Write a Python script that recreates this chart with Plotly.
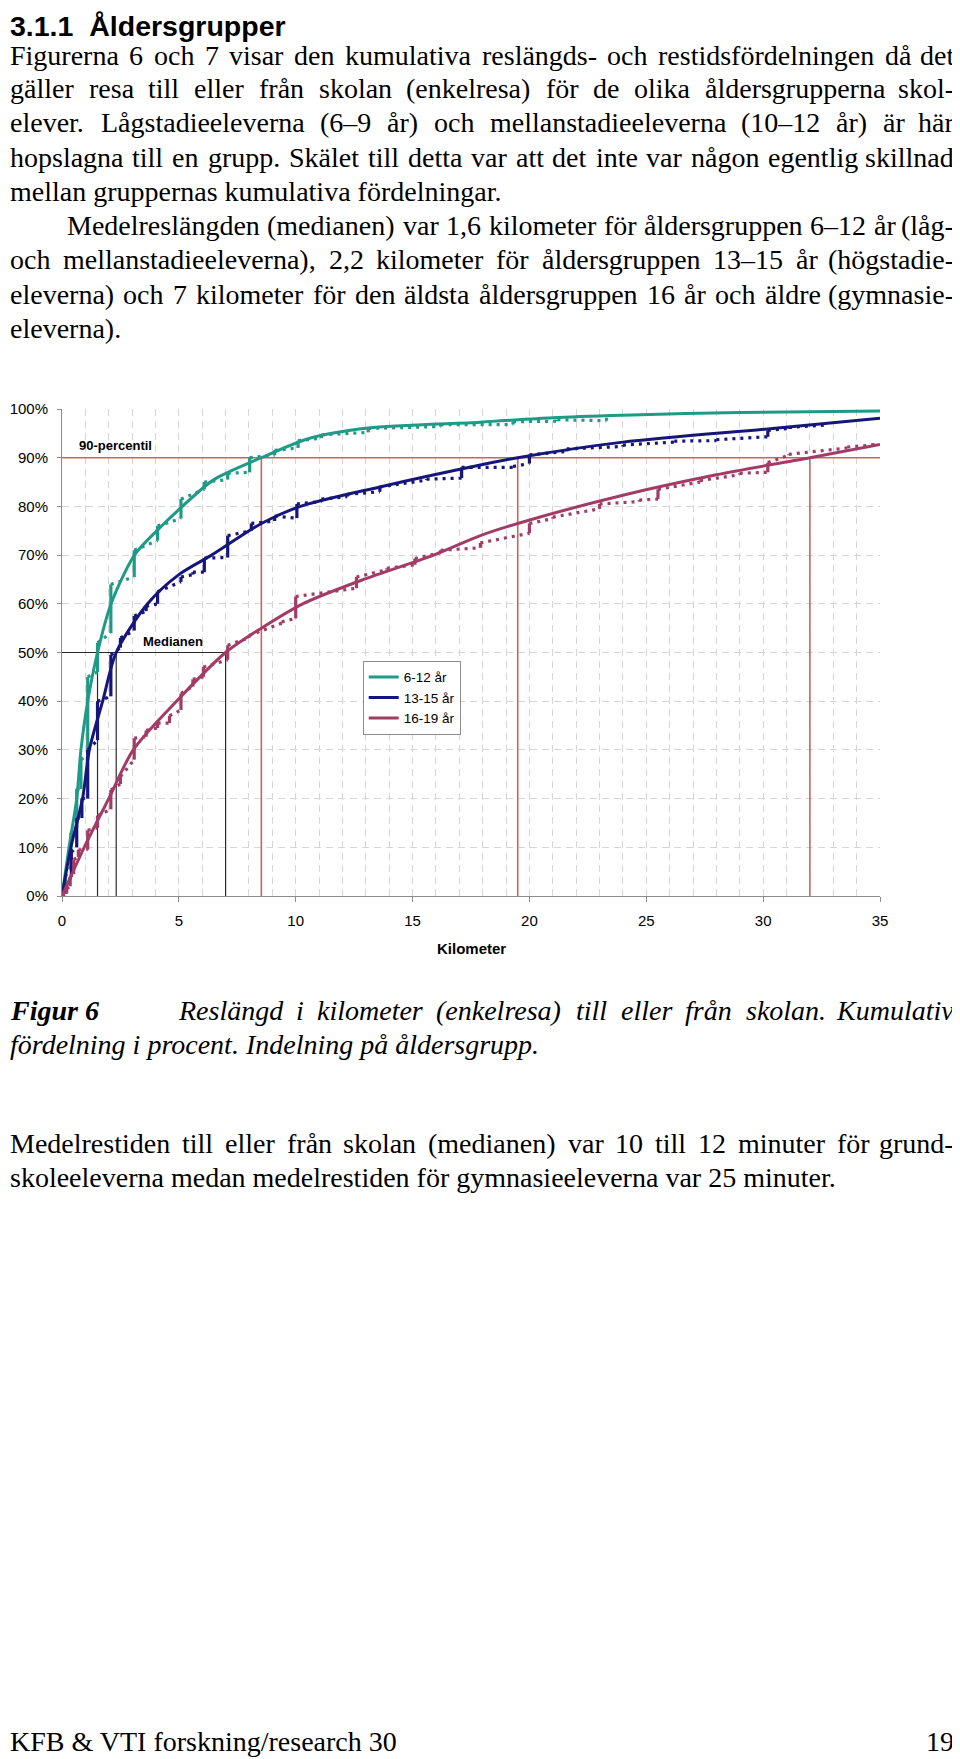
import plotly.graph_objects as go

W, H = 960, 1759
PAGE_SHIFT = 8  # the browser body margin moves the figure 8px right and down

# smoothed cumulative curves (km, % of trips)
km_6_12 = [0, 0.3, 0.63, 0.81, 1.1, 1.52, 2.1, 3.1, 4.1, 5.15, 6.5, 8.53, 10.6, 13.1, 17.9, 21.0, 24.0, 29.0, 35.0]
pct_6_12 = [0, 10, 20, 30, 40, 50, 60, 70, 75.2, 80, 85.5, 90, 94, 96.1, 97.3, 98.2, 98.7, 99.3, 99.6]

km_13_15 = [0, 0.38, 0.88, 1.17, 1.74, 2.32, 3.66, 5.0, 6.4, 8.53, 10.2, 13.6, 17.9, 19.5, 24.0, 30.4, 35.0]
pct_13_15 = [0, 10, 20, 30, 40, 50, 60, 66, 70, 76.5, 80, 84, 88.5, 90, 93.2, 96.0, 98.1]

km_16_19 = [0, 0.95, 2.0, 3.05, 4.9, 7.0, 8.53, 10.3, 12.9, 15.9, 17.9, 19.5, 24.0, 28.0, 32.0, 35.0]
pct_16_19 = [0, 10, 20, 30, 40, 50, 55, 60, 65, 70, 74, 76.5, 82.3, 86.5, 90, 92.7]

# observed cumulative distribution: jumps at heaped distances (km, % before, % after)
jump_km_6_12 = [0.15, 0.38, 0.63, 0.81, 1.1, 1.52, 2.09, 3.09, 4.09, 5.09, 6.09, 7.09, 8.03, 9.1, 10.1, 11.1, 13.1, 16.2, 19.3, 21.2, 23.3]
jump_lo_6_12 = [1, 6, 14, 22, 29, 46, 54, 65.5, 73, 77.5, 83.5, 85.5, 87, 90.5, 92, 94, 95.2, 96.4, 96.8, 97.5, 97.6]
jump_hi_6_12 = [4, 13, 22, 28, 45, 52, 64, 71, 76, 81.5, 85, 86.8, 90, 91.5, 93.5, 94.7, 96, 96.8, 97.4, 97.8, 98.2]

jump_km_13_15 = [0.15, 0.4, 0.63, 0.85, 1.1, 1.52, 2.09, 2.5, 3.09, 3.6, 4.09, 5.09, 5.6, 6.09, 7.09, 8.1, 9.1, 10.05, 11.1, 12.2, 13.6, 15.6, 17.1, 19.3, 20.0, 21.6, 24.0, 26.2, 28.0, 30.2, 31.1, 32.6]
jump_lo_13_15 = [0.5, 4, 10, 16, 20, 32, 41, 51, 54.5, 58.5, 60, 64.5, 66, 66.5, 69.5, 75, 77, 77.6, 81, 82, 83, 85.4, 85.8, 88, 88.8, 91.3, 92.3, 93.2, 93.5, 94.3, 96, 96.7]
jump_hi_13_15 = [2, 9, 16, 20, 30, 40, 49.5, 53, 57.5, 59.5, 62.5, 65.5, 66.5, 69.4, 74, 76.5, 78, 80.5, 81.5, 82.5, 84, 85.6, 88, 88.2, 90.6, 91.8, 92.6, 93.4, 93.7, 95.6, 96.2, 96.9]

jump_km_16_19 = [0.2, 0.35, 0.5, 0.7, 1.1, 1.52, 2.09, 2.5, 3.09, 3.6, 4.09, 4.6, 5.09, 5.6, 6.05, 7.09, 8.0, 9.4, 10.0, 12.6, 13.9, 15.1, 16.2, 17.9, 20.0, 21.0, 23.0, 24.7, 25.5, 27.3, 29.0, 30.2, 31.1, 33.6, 34.7]
jump_lo_16_19 = [0.5, 2, 4.5, 8, 9.5, 14, 17.8, 23, 28, 32.7, 34.5, 35.5, 38.2, 43, 45, 48.5, 53, 56, 57, 63.2, 67, 68, 70.5, 71.5, 74.5, 77.5, 79.5, 81, 81.5, 85, 86.5, 87, 90.5, 92, 92.6]
jump_hi_16_19 = [1.5, 4, 7.5, 9.5, 13.5, 16.5, 21.8, 24.5, 32.4, 34, 35.5, 37, 41.6, 44.5, 47, 51.5, 53.5, 56.3, 61.5, 65.5, 67.3, 69.3, 71, 72.5, 76.5, 77.8, 80.5, 81.3, 83.5, 85.3, 86.8, 89, 90.7, 92.2, 93]

groups = ["6-12 år", "13-15 år", "16-19 år"]

# reference lines
median_km = [1.52, 2.32, 7.0]
median_pct = 50
p90_km = [8.53, 19.5, 32.0]
p90_pct = 90

x_ticks = [0, 5, 10, 15, 20, 25, 30, 35]
y_ticks = [0, 10, 20, 30, 40, 50, 60, 70, 80, 90, 100]
y_tick_labels = [f"{v}%" for v in y_ticks]

heading = "3.1.1  Åldersgrupper"
body_lines = [
    "Figurerna 6 och 7 visar den kumulativa reslängds- och restidsfördelningen då det",
    "gäller resa till eller från skolan (enkelresa) för de olika åldersgrupperna skol-",
    "elever. Lågstadieeleverna (6–9 år) och mellanstadieeleverna (10–12 år) är här",
    "hopslagna till en grupp. Skälet till detta var att det inte var någon egentlig skillnad",
    "mellan gruppernas kumulativa fördelningar.",
    "Medelreslängden (medianen) var 1,6 kilometer för åldersgruppen 6–12 år (låg-",
    "och mellanstadieeleverna), 2,2 kilometer för åldersgruppen 13–15 år (högstadie-",
    "eleverna) och 7 kilometer för den äldsta åldersgruppen 16 år och äldre (gymnasie-",
    "eleverna).",
]
body_justified = [True, True, True, True, False, True, True, True, False]
caption_label = "Figur 6"
caption_lines = [
    "Reslängd i kilometer (enkelresa) till eller från skolan. Kumulativ",
    "fördelning i procent. Indelning på åldersgrupp.",
]
after_lines = [
    "Medelrestiden till eller från skolan (medianen) var 10 till 12 minuter för grund-",
    "skoleeleverna medan medelrestiden för gymnasieeleverna var 25 minuter.",
]
footer_left = "KFB &amp; VTI forskning/research 30"
footer_right = "19"

colors = ["#1f9a86", "#16167a", "#a23c66"]
ref_red = "#c86464"
grid = "#d6d6d6"
axis_grey = "#8c8c8c"
sans = "Liberation Sans, Arial"
serif = "Liberation Serif, Times New Roman"

# Times advance widths (1/1000 em), used only to spread words for justified lines
ROMAN = {c: w for chars, w in [
    (" ,.", 250), ("ilt:ij", 278), ("/", 278), ("fr()-I", 333), ("s", 389),
    ("aceåäéz", 444), ("bdghknopquvxyö0123456789–", 500), ("FPS", 556),
    ("ELT", 611), ("BCR", 667), ("w", 722), ("ADGHKNOUVXY", 722), ("m&", 778), ("M", 889)]
    for c in chars}
ITALIC = dict(ROMAN, **{c: w for chars, w in [
    ("f", 278), ("r", 389), ("a", 500), ("åä", 500), ("kv", 444), ("m", 722),
    ("R", 611), ("K", 667)] for c in chars})

fig = go.Figure()

# 90-percentile lines
vx, vy = [0, 35, None], [p90_pct, p90_pct, None]
for k in p90_km:
    vx += [k, k, None]
    vy += [0, p90_pct, None]
fig.add_trace(go.Scatter(x=vx, y=vy, mode="lines", line=dict(color=ref_red, width=1.6),
                         showlegend=False, hoverinfo="skip"))

# median lines
mx, my = [0, max(median_km), None], [median_pct, median_pct, None]
for k in median_km:
    mx += [k, k, None]
    my += [0, median_pct, None]
fig.add_trace(go.Scatter(x=mx, y=my, mode="lines", line=dict(color="#2a2a2a", width=1.2),
                         showlegend=False, hoverinfo="skip"))

raw = [
    (jump_km_6_12, jump_lo_6_12, jump_hi_6_12),
    (jump_km_13_15, jump_lo_13_15, jump_hi_13_15),
    (jump_km_16_19, jump_lo_16_19, jump_hi_16_19),
]
for (jkm, jlo, jhi), color in zip(raw, colors):
    jx, jy, fx, fy = [], [], [], []
    prev_k, prev_hi = 0, 0
    for k, lo, hi in zip(jkm, jlo, jhi):
        jx += [k, k, None]
        jy += [lo, hi, None]
        fx += [prev_k, k, None]
        fy += [prev_hi, lo, None]
        prev_k, prev_hi = k, hi
    fig.add_trace(go.Scatter(x=fx, y=fy, mode="lines",
                             line=dict(color=color, width=3.2, dash="3px,5px"),
                             showlegend=False, hoverinfo="skip"))
    fig.add_trace(go.Scatter(x=jx, y=jy, mode="lines", line=dict(color=color, width=3.2),
                             showlegend=False, hoverinfo="skip"))

smooth = [(km_6_12, pct_6_12), (km_13_15, pct_13_15), (km_16_19, pct_16_19)]
for (km, pct), name, color in zip(smooth, groups, colors):
    fig.add_trace(go.Scatter(x=km, y=pct, mode="lines", name=name,
                             line=dict(color=color, width=3, shape="spline", smoothing=0.8)))


def fx_(px):
    return (px - PAGE_SHIFT) / W


def fy_(py):
    return 1 - (py - PAGE_SHIFT) / H


x0_px, x1_px = 62, 880
y0_px, y1_px = 896, 409

axis_common = dict(
    showgrid=True, gridcolor=grid, griddash="7px,5px", gridwidth=1,
    showline=True, linecolor=axis_grey, linewidth=1, zeroline=False, automargin=False,
    ticks="outside", tickcolor=axis_grey, tickfont=dict(family=sans, size=15, color="black"),
)
fig.update_xaxes(domain=[fx_(x0_px), fx_(x1_px)], range=[0, 35], tickvals=x_ticks, ticklen=5,
                 ticklabelstandoff=6,
                 minor=dict(dtick=1, showgrid=True, gridcolor=grid, griddash="7px,5px", ticks=""),
                 **axis_common)
fig.update_yaxes(domain=[fy_(y0_px), fy_(y1_px)], range=[0, 100], tickvals=y_ticks,
                 ticktext=y_tick_labels, ticklen=4, ticklabelstandoff=6, **axis_common)

ann = []
SIZE = 28


def page_text(text, px, py, size=SIZE, family=serif, anchor="left"):
    ann.append(dict(text=text, x=fx_(px), y=fy_(py), xref="paper", yref="paper",
                    xanchor=anchor, yanchor="middle", showarrow=False, borderpad=0,
                    font=dict(family=family, size=size, color="black")))


def justified(line, left, right, py, italic=False):
    table = ITALIC if italic else ROMAN
    words = line.split(" ")
    widths = [sum(table.get(c, 500) for c in w) * SIZE / 1000 for w in words]
    gap = (right - left - sum(widths)) / (len(words) - 1)
    x = left
    for i, (w, wd) in enumerate(zip(words, widths)):
        t = f"<i>{w}</i>" if italic else w
        if i == len(words) - 1:
            page_text(t, right, py, anchor="right")
        else:
            page_text(t, x, py)
        x += wd + gap


LEFT, RIGHT = 9, 955
page_text(f"<b>{heading}</b>", LEFT, 26, size=28.5, family=sans)
line_y = [56, 89, 123, 157, 191, 225, 259, 294, 328]
for i, (t, py, just) in enumerate(zip(body_lines, line_y, body_justified)):
    left = 66 if i == 5 else LEFT
    if just:
        justified(t, left, RIGHT, py)
    else:
        page_text(t, left, py)

page_text(f"<b><i>{caption_label}</i></b>", LEFT, 1010)
justified(caption_lines[0], 177, RIGHT, 1010, italic=True)
page_text(f"<i>{caption_lines[1]}</i>", LEFT, 1044)
justified(after_lines[0], LEFT, RIGHT, 1143)
page_text(after_lines[1], LEFT, 1177)
page_text(footer_left, LEFT, 1741)
page_text(footer_right, RIGHT, 1741, anchor="right")

ann.append(dict(text="<b>Kilometer</b>", x=fx_((x0_px + x1_px) / 2), y=fy_(948),
                xref="paper", yref="paper", showarrow=False, xanchor="center",
                yanchor="middle", font=dict(family=sans, size=15, color="black")))
ann.append(dict(text="<b>90-percentil</b>", x=0.64, y=92.6, xref="x", yref="y",
                showarrow=False, xanchor="left", yanchor="middle",
                font=dict(family=sans, size=13, color="black")))
ann.append(dict(text="<b>Medianen</b>", x=3.38, y=52.3, xref="x", yref="y",
                showarrow=False, xanchor="left", yanchor="middle",
                font=dict(family=sans, size=13, color="black")))

fig.update_layout(
    width=W, height=H, margin=dict(l=0, r=0, t=0, b=0),
    paper_bgcolor="white", plot_bgcolor="white",
    font=dict(family=sans, color="black"),
    annotations=ann,
    legend=dict(x=fx_(362.7), y=fy_(660.7), xanchor="left", yanchor="top",
                bgcolor="white", bordercolor=axis_grey, borderwidth=1,
                font=dict(family=sans, size=13.5, color="black"),
                itemwidth=30, tracegroupgap=0),
)

fig.write_html("out.html")
